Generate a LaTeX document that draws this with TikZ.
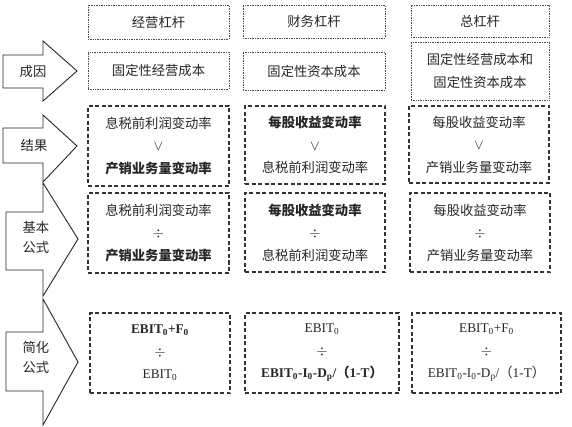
\documentclass[tikz,border=0pt]{standalone}
\usepackage{fontspec}
\setmainfont{Liberation Serif}
\newfontfamily\cjk{Noto Sans CJK SC}
\newcommand\sbt[1]{\textsubscript{#1}}
\begin{document}
\begin{tikzpicture}[x=1pt,y=-1pt,
  txt/.style={font=\cjk\fontsize{13.3}{22.5}\selectfont, text=black!85, align=center, inner sep=0pt},
  dotbox/.style={draw=black!70, densely dotted, line width=0.7pt, txt},
  dashbox/.style={draw=black!80, dash pattern=on 4pt off 2.5pt, line width=1.1pt, txt},
  arrowshape/.style={draw=black!85, line width=0.9pt, fill=white, line join=miter},
  atxt/.style={font=\cjk\fontsize{13.3}{20}\selectfont, text=black!85, align=center, inner sep=0pt}]
\useasboundingbox (0,0) rectangle (572,427);

% left arrows
\draw[arrowshape] (3,55)--(43,55)--(43,41)--(77,71)--(43,101)--(43,88)--(3,88)--cycle;
\node[atxt] (a1) at (33,71.5) {成因};
\draw[arrowshape] (3,128)--(43,128)--(43,115)--(77,146)--(43,182)--(43,163)--(3,163)--cycle;
\node[atxt] (a2) at (34,145.5) {结果};
\draw[arrowshape] (6,212)--(43,212)--(43,183)--(78,239)--(43,296)--(43,270)--(6,270)--cycle;
\node[atxt] (a3) at (36,237) {基本\\公式};
\draw[arrowshape] (6,332)--(43,332)--(43,299)--(78,362)--(43,425)--(43,391)--(6,391)--cycle;
\node[atxt] (a4) at (36,357) {简化\\公式};

% row 1
\node[dotbox, minimum width=141pt, minimum height=34pt] (h1) at (158.5,22) {经营杠杆};
\node[dotbox, minimum width=142pt, minimum height=33pt] (h2) at (314,21.5) {财务杠杆};
\node[dotbox, minimum width=138pt, minimum height=32pt] (h3) at (480,21) {总杠杆};

% row 2
\node[dotbox, minimum width=141pt, minimum height=37pt] (c1) at (158.5,70.5) {固定性经营成本};
\node[dotbox, minimum width=142pt, minimum height=38pt] (c2) at (314,71) {固定性资本成本};
\node[dotbox, minimum width=138pt, minimum height=58pt] (c3) at (480,71) {固定性经营成本和\\固定性资本成本};

% row 3
\node[dashbox, minimum width=141pt, minimum height=80pt] (r1) at (158.5,146)
  {息税前利润变动率\\$\vee$\\{\bfseries 产销业务量变动率}};
\node[dashbox, minimum width=140pt, minimum height=78pt] (r2) at (315,145)
  {{\bfseries 每股收益变动率}\\$\vee$\\息税前利润变动率};
\node[dashbox, minimum width=140pt, minimum height=77pt] (r3) at (479,144.5)
  {每股收益变动率\\$\vee$\\产销业务量变动率};

% row 4
\node[dashbox, minimum width=141pt, minimum height=80pt] (f1) at (158.5,233)
  {息税前利润变动率\\$\div$\\{\bfseries 产销业务量变动率}};
\node[dashbox, minimum width=140pt, minimum height=79pt] (f2) at (315,232.5)
  {{\bfseries 每股收益变动率}\\$\div$\\息税前利润变动率};
\node[dashbox, minimum width=140pt, minimum height=79pt] (f3) at (480,232.5)
  {每股收益变动率\\$\div$\\产销业务量变动率};

% row 5
\node[dashbox, minimum width=140pt, minimum height=80pt] (s1) at (160,353)
  {{\rmfamily\bfseries EBIT\sbt{0}+F\sbt{0}}\\$\div$\\{\rmfamily EBIT\sbt{0}}};
\node[dashbox, minimum width=154pt, minimum height=80pt] (s2) at (322,353)
  {{\rmfamily EBIT\sbt{0}}\\$\div$\\{\rmfamily\bfseries EBIT\sbt{0}-I\sbt{0}-D\sbt{p}/{\cjk\bfseries （}1-T{\cjk\bfseries ）}}};
\node[dashbox, minimum width=149pt, minimum height=80pt] (s3) at (486.5,353)
  {{\rmfamily EBIT\sbt{0}+F\sbt{0}}\\$\div$\\{\rmfamily EBIT\sbt{0}-I\sbt{0}-D\sbt{p}/{\cjk （}1-T{\cjk ）}}};
\end{tikzpicture}
\end{document}
